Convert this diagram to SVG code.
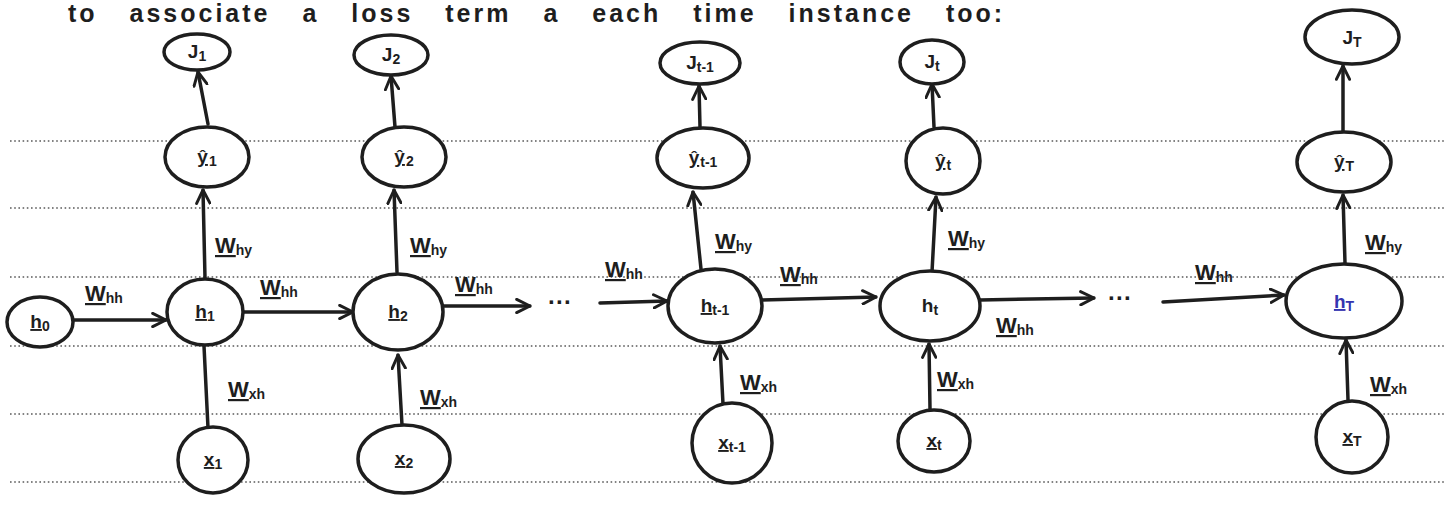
<svg xmlns="http://www.w3.org/2000/svg" width="1446" height="506" viewBox="0 0 1446 506">
<style>
.rule{stroke:#5a5a5a;stroke-width:1.6;stroke-dasharray:1.6 2.6;fill:none}
.node{fill:#ffffff;stroke:#1e1e1e;stroke-width:3.5}
.edge{stroke:#1e1e1e;stroke-width:3.5;fill:none;stroke-linecap:round}
.lbl{font-family:"Liberation Sans",Arial,sans-serif;font-weight:bold;font-size:19px;fill:#1e1e1e;text-anchor:middle}
.w{font-family:"Liberation Sans",Arial,sans-serif;font-weight:bold;font-size:22px;fill:#1e1e1e}
.sub{font-size:14px}
.blue{fill:#3535b0}
.title{font-family:"Liberation Sans",Arial,sans-serif;font-weight:bold;font-size:25px;fill:#1e1e1e;word-spacing:22px;letter-spacing:3px}
.dots{font-family:"Liberation Sans",Arial,sans-serif;font-weight:bold;font-size:24px;fill:#1e1e1e}
</style>
<defs>
<marker id="ah" viewBox="0 0 12 12" refX="11" refY="6" markerWidth="16" markerHeight="16" markerUnits="userSpaceOnUse" orient="auto">
<path d="M1,1 L11,6 L1,11" fill="none" stroke="#1e1e1e" stroke-width="2.2" stroke-linecap="round" stroke-linejoin="round"/>
</marker>
</defs>
<rect width="1446" height="506" fill="#ffffff"/>
<g id="ruling">
<line class="rule" x1="10" y1="141" x2="1446" y2="141"/>
<line class="rule" x1="10" y1="208" x2="1446" y2="208"/>
<line class="rule" x1="10" y1="277" x2="1446" y2="277"/>
<line class="rule" x1="10" y1="346" x2="1446" y2="346"/>
<line class="rule" x1="10" y1="414" x2="1446" y2="414"/>
<line class="rule" x1="10" y1="482" x2="1446" y2="482"/>
</g>
<text class="title" x="68" y="22">to associate a loss term a each time instance too:</text>
<g id="connectors">
<path class="edge" d="M73,320 L166,320" marker-end="url(#ah)"/>
<path class="edge" d="M243,312 L353,312" marker-end="url(#ah)"/>
<path class="edge" d="M443,306 L530,306" marker-end="url(#ah)"/>
<path class="edge" d="M600,303 L667,301" marker-end="url(#ah)"/>
<path class="edge" d="M762,300 L876,297" marker-end="url(#ah)"/>
<path class="edge" d="M980,300 L1094,298" marker-end="url(#ah)"/>
<path class="edge" d="M1163,302 L1284,295" marker-end="url(#ah)"/>
<path class="edge" d="M208,428 L204,346"/>
<path class="edge" d="M205,278 L203,190" marker-end="url(#ah)"/>
<path class="edge" d="M208,124 L198,72" marker-end="url(#ah)"/>
<path class="edge" d="M402,425 L398,355" marker-end="url(#ah)"/>
<path class="edge" d="M397,272 L394,190" marker-end="url(#ah)"/>
<path class="edge" d="M395,127 L391,76" marker-end="url(#ah)"/>
<path class="edge" d="M723,404 L720,346" marker-end="url(#ah)"/>
<path class="edge" d="M701,269 L693,192" marker-end="url(#ah)"/>
<path class="edge" d="M700,127 L699,86" marker-end="url(#ah)"/>
<path class="edge" d="M930,409 L929,344" marker-end="url(#ah)"/>
<path class="edge" d="M932,272 L936,197" marker-end="url(#ah)"/>
<path class="edge" d="M934,127 L932,84" marker-end="url(#ah)"/>
<path class="edge" d="M1348,400 L1346,340" marker-end="url(#ah)"/>
<path class="edge" d="M1345,263 L1343,195" marker-end="url(#ah)"/>
<path class="edge" d="M1343,131 L1343,66" marker-end="url(#ah)"/>
</g>
<g id="edge-labels">
<text class="w" x="85" y="301"><tspan text-decoration="underline">W</tspan><tspan class="sub" dy="2">hh</tspan></text>
<text class="w" x="260" y="295"><tspan text-decoration="underline">W</tspan><tspan class="sub" dy="2">hh</tspan></text>
<text class="w" x="455" y="292"><tspan text-decoration="underline">W</tspan><tspan class="sub" dy="2">hh</tspan></text>
<text class="w" x="605" y="277"><tspan text-decoration="underline">W</tspan><tspan class="sub" dy="2">hh</tspan></text>
<text class="w" x="780" y="282"><tspan text-decoration="underline">W</tspan><tspan class="sub" dy="2">hh</tspan></text>
<text class="w" x="996" y="333"><tspan text-decoration="underline">W</tspan><tspan class="sub" dy="2">hh</tspan></text>
<text class="w" x="1195" y="280"><tspan text-decoration="underline">W</tspan><tspan class="sub" dy="2">hh</tspan></text>
<text class="w" x="215" y="253"><tspan text-decoration="underline">W</tspan><tspan class="sub" dy="2">hy</tspan></text>
<text class="w" x="410" y="253"><tspan text-decoration="underline">W</tspan><tspan class="sub" dy="2">hy</tspan></text>
<text class="w" x="715" y="249"><tspan text-decoration="underline">W</tspan><tspan class="sub" dy="2">hy</tspan></text>
<text class="w" x="948" y="246"><tspan text-decoration="underline">W</tspan><tspan class="sub" dy="2">hy</tspan></text>
<text class="w" x="1365" y="250"><tspan text-decoration="underline">W</tspan><tspan class="sub" dy="2">hy</tspan></text>
<text class="w" x="228" y="397"><tspan text-decoration="underline">W</tspan><tspan class="sub" dy="2">xh</tspan></text>
<text class="w" x="420" y="405"><tspan text-decoration="underline">W</tspan><tspan class="sub" dy="2">xh</tspan></text>
<text class="w" x="740" y="390"><tspan text-decoration="underline">W</tspan><tspan class="sub" dy="2">xh</tspan></text>
<text class="w" x="937" y="387"><tspan text-decoration="underline">W</tspan><tspan class="sub" dy="2">xh</tspan></text>
<text class="w" x="1370" y="392"><tspan text-decoration="underline">W</tspan><tspan class="sub" dy="2">xh</tspan></text>
<text class="dots" x="548" y="310">···</text>
<text class="dots" x="1108" y="306">···</text>
</g>
<g id="node-h0"><ellipse class="node" cx="40" cy="322" rx="33" ry="25"/><text class="lbl" x="40" y="328"><tspan text-decoration="underline">h</tspan><tspan class="sub" dy="3">0</tspan></text></g>
<g id="node-J1"><ellipse class="node" cx="197" cy="52" rx="33" ry="18"/><text class="lbl" x="197" y="58">J<tspan class="sub" dy="3">1</tspan></text></g>
<g id="node-yhat1"><ellipse class="node" cx="207" cy="157" rx="42" ry="30"/><text class="lbl" x="207" y="163"><tspan text-decoration="underline">ŷ</tspan><tspan class="sub" dx="1" dy="3">1</tspan></text></g>
<g id="node-h1"><ellipse class="node" cx="205" cy="312" rx="38" ry="33"/><text class="lbl" x="205" y="318"><tspan text-decoration="underline">h</tspan><tspan class="sub" dy="3">1</tspan></text></g>
<g id="node-x1"><ellipse class="node" cx="213" cy="460" rx="35" ry="33"/><text class="lbl" x="213" y="466"><tspan text-decoration="underline">x</tspan><tspan class="sub" dy="3">1</tspan></text></g>
<g id="node-J2"><ellipse class="node" cx="391" cy="55" rx="37" ry="20"/><text class="lbl" x="391" y="61">J<tspan class="sub" dy="3">2</tspan></text></g>
<g id="node-yhat2"><ellipse class="node" cx="404" cy="157" rx="42" ry="30"/><text class="lbl" x="404" y="163"><tspan text-decoration="underline">ŷ</tspan><tspan class="sub" dx="1" dy="3">2</tspan></text></g>
<g id="node-h2"><ellipse class="node" cx="398" cy="312" rx="45" ry="38"/><text class="lbl" x="398" y="318"><tspan text-decoration="underline">h</tspan><tspan class="sub" dy="3">2</tspan></text></g>
<g id="node-x2"><ellipse class="node" cx="404" cy="459" rx="46" ry="34"/><text class="lbl" x="404" y="465"><tspan text-decoration="underline">x</tspan><tspan class="sub" dy="3">2</tspan></text></g>
<g id="node-Jt-1"><ellipse class="node" cx="700" cy="63" rx="40" ry="21"/><text class="lbl" x="700" y="69">J<tspan class="sub" dy="3">t-1</tspan></text></g>
<g id="node-yhatt-1"><ellipse class="node" cx="703" cy="158" rx="46" ry="30"/><text class="lbl" x="703" y="164"><tspan text-decoration="underline">ŷ</tspan><tspan class="sub" dx="1" dy="3">t-1</tspan></text></g>
<g id="node-ht-1"><ellipse class="node" cx="715" cy="306" rx="47" ry="37"/><text class="lbl" x="715" y="312"><tspan text-decoration="underline">h</tspan><tspan class="sub" dy="3">t-1</tspan></text></g>
<g id="node-xt-1"><ellipse class="node" cx="732" cy="443" rx="40" ry="40"/><text class="lbl" x="732" y="449"><tspan text-decoration="underline">x</tspan><tspan class="sub" dy="3">t-1</tspan></text></g>
<g id="node-Jt"><ellipse class="node" cx="932" cy="62" rx="32" ry="22"/><text class="lbl" x="932" y="68">J<tspan class="sub" dy="3">t</tspan></text></g>
<g id="node-yhatt"><ellipse class="node" cx="943" cy="161" rx="37" ry="33"/><text class="lbl" x="943" y="167"><tspan text-decoration="underline">ŷ</tspan><tspan class="sub" dx="1" dy="3">t</tspan></text></g>
<g id="node-ht"><ellipse class="node" cx="930" cy="306" rx="50" ry="35"/><text class="lbl" x="930" y="312"><tspan>h</tspan><tspan class="sub" dy="3">t</tspan></text></g>
<g id="node-xt"><ellipse class="node" cx="934" cy="441" rx="36" ry="31"/><text class="lbl" x="934" y="447"><tspan text-decoration="underline">x</tspan><tspan class="sub" dy="3">t</tspan></text></g>
<g id="node-JT"><ellipse class="node" cx="1352" cy="37" rx="47" ry="27"/><text class="lbl" x="1352" y="44">J<tspan class="sub" dy="3">T</tspan></text></g>
<g id="node-yhatT"><ellipse class="node" cx="1344" cy="162" rx="47" ry="30"/><text class="lbl" x="1344" y="168"><tspan text-decoration="underline">ŷ</tspan><tspan class="sub" dx="1" dy="3">T</tspan></text></g>
<g id="node-hT"><ellipse class="node" cx="1344" cy="301" rx="58" ry="37"/><text class="lbl blue" x="1344" y="308"><tspan text-decoration="underline">h</tspan><tspan class="sub" dy="3">T</tspan></text></g>
<g id="node-xT"><ellipse class="node" cx="1352" cy="437" rx="36" ry="36"/><text class="lbl" x="1352" y="443"><tspan text-decoration="underline">x</tspan><tspan class="sub" dy="3">T</tspan></text></g>
</svg>
